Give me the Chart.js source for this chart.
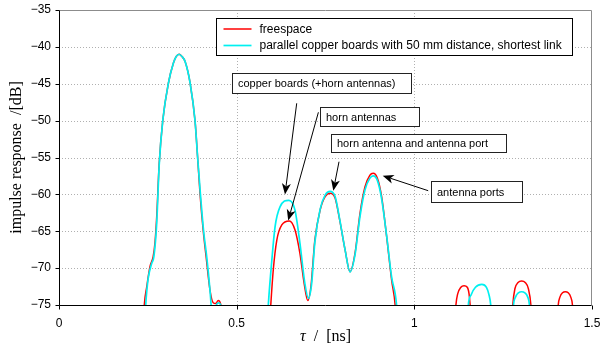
<!DOCTYPE html>
<html>
<head>
<meta charset="utf-8">
<script src="https://cdn.jsdelivr.net/npm/chart.js@4/dist/chart.umd.min.js"></script>
<style>
  html, body { margin: 0; padding: 0; background: #fff; }
</style>
</head>
<body>
<canvas id="chart" width="603" height="346"></canvas>
<script>
// values (tau in ns, response in dB); -80 means "below the axis"
const freespaceTau = [
  0.235, 0.240, 0.247, 0.256, 0.265, 0.270, 0.275, 0.282, 0.292, 0.308, 0.322, 0.330, 0.338, 0.346, 0.355,
  0.369, 0.383, 0.390, 0.397, 0.406, 0.414, 0.425, 0.434, 0.441, 0.448, 0.455, 0.460,
  0.590, 0.596, 0.603, 0.613, 0.627, 0.648, 0.664, 0.678, 0.690, 0.700, 0.709, 0.720, 0.735, 0.749, 0.763,
  0.777, 0.790, 0.805, 0.819, 0.833, 0.847, 0.861, 0.875, 0.884, 0.896, 0.908, 0.922, 0.936, 0.946, 0.952,
  1.111, 1.117, 1.122, 1.131, 1.140, 1.149, 1.154, 1.157, 1.163,
  1.271, 1.277, 1.283, 1.292, 1.302, 1.312, 1.321, 1.328, 1.334,
  1.399, 1.405, 1.410, 1.417, 1.425, 1.433, 1.440, 1.445, 1.451
];
const freespaceDb = [
  -80, -75, -72.5, -69.8, -68.45, -66.6, -63.0, -55.8, -50.0, -44.9, -42.2, -41.3, -41.0, -41.3, -42.0,
  -44.9, -50.1, -54.9, -60.0, -65.0, -68.45, -73.0, -74.7, -74.8, -74.4, -74.9, -80,
  -80, -75, -70.25, -66.2, -64.15, -63.6, -64.8, -68.0, -72.1, -74.4, -72.5, -66.2, -62.1, -60.3, -59.85,
  -60.5, -63.5, -67.5, -70.5, -68.0, -62.6, -59.0, -57.4, -57.15, -57.8, -60.3, -65.7, -71.6, -75, -80,
  -80, -75, -73.5, -72.6, -72.4, -72.6, -73.5, -75, -80,
  -80, -75, -72.8, -71.95, -71.75, -71.95, -72.8, -75, -80,
  -80, -75, -73.9, -73.35, -73.2, -73.35, -73.9, -75, -80
];
const copperTau = [
  0.239, 0.244, 0.251, 0.261, 0.267, 0.275, 0.282, 0.292, 0.308, 0.322, 0.330, 0.338, 0.346, 0.355,
  0.369, 0.383, 0.390, 0.398, 0.407, 0.416, 0.424, 0.428, 0.433,
  0.438, 0.443, 0.449, 0.455, 0.460,
  0.583, 0.589, 0.599, 0.608, 0.622, 0.647, 0.664, 0.678, 0.692, 0.702, 0.711, 0.720, 0.735, 0.749, 0.763,
  0.777, 0.790, 0.805, 0.819, 0.833, 0.847, 0.861, 0.875, 0.884, 0.896, 0.908, 0.922, 0.936, 0.950, 0.956,
  1.146, 1.152, 1.160, 1.172, 1.190, 1.203, 1.210, 1.215, 1.221,
  1.273, 1.279, 1.285, 1.293, 1.302, 1.311, 1.319, 1.324, 1.330
];
const copperDb = [
  -80, -75, -71.4, -69.35, -68.45, -63.9, -56.0, -50.0, -44.9, -42.2, -41.3, -41.0, -41.3, -42.0,
  -44.9, -50.1, -54.9, -60.0, -65.0, -68.6, -72.5, -75, -80,
  -80, -75, -74.7, -75, -80,
  -80, -75, -68.9, -64.4, -61.7, -60.8, -62.1, -66.6, -72.1, -74.1, -72.1, -66.5, -62.0, -60.1, -59.6,
  -60.3, -63.4, -67.5, -70.5, -68.2, -63.0, -59.4, -57.8, -57.5, -58.1, -60.6, -65.6, -71.2, -75, -80,
  -80, -75, -73.6, -72.6, -72.2, -72.6, -73.6, -75, -80,
  -80, -75, -73.9, -73.35, -73.2, -73.35, -73.9, -75, -80
];
const xTicks = [0, 0.5, 1, 1.5];
const yTicks = [-35, -40, -45, -50, -55, -60, -65, -70, -75];
const seriesLabels = ['freespace', 'parallel copper boards with 50 mm distance, shortest link'];

// text boxes with arrows, corners and arrow ends in axis units
const notes = [
  { text: 'copper boards (+horn antennas)', box: [0.486, -43.54, 0.991, -46.25], from: [0.669, -47.65], to: [0.636, -60.0] },
  { text: 'horn antennas', box: [0.735, -48.19, 1.014, -50.69], from: [0.730, -48.87], to: [0.645, -63.55] },
  { text: 'horn antenna and antenna port', box: [0.765, -51.81, 1.258, -54.29], from: [0.788, -55.57], to: [0.772, -59.5] },
  { text: 'antenna ports', box: [1.046, -58.15, 1.302, -61.0], from: [1.039, -59.5], to: [0.911, -57.47] }
];

const sans = 'Liberation Sans, Arial, sans-serif';
const serif = 'Liberation Serif, Times New Roman, serif';

function toPoints(xs, ys) {
  return xs.map((x, i) => ({ x: x, y: ys[i] }));
}

function arrow(ctx, x1, y1, x2, y2) {
  const a = Math.atan2(y2 - y1, x2 - x1);
  const len = 11, half = 4.5, back = 3;
  ctx.beginPath();
  ctx.moveTo(x1, y1);
  ctx.lineTo(x2 - Math.cos(a) * (len - back), y2 - Math.sin(a) * (len - back));
  ctx.stroke();
  ctx.save();
  ctx.translate(x2, y2);
  ctx.rotate(a);
  ctx.beginPath();
  ctx.moveTo(0, 0);
  ctx.lineTo(-len, -half);
  ctx.lineTo(-len + back, 0);
  ctx.lineTo(-len, half);
  ctx.closePath();
  ctx.fill();
  ctx.restore();
}

const framePlugin = {
  id: 'frame',
  beforeDatasetsDraw(chart) {
    const { ctx, chartArea: a, scales: { x, y } } = chart;
    ctx.save();
    ctx.strokeStyle = '#b0b0b0';
    ctx.lineWidth = 1;
    ctx.setLineDash([1, 2]);
    xTicks.slice(1, -1).forEach(v => {
      const px = Math.round(x.getPixelForValue(v)) + 0.5;
      ctx.beginPath(); ctx.moveTo(px, a.top); ctx.lineTo(px, a.bottom); ctx.stroke();
    });
    yTicks.slice(1, -1).forEach(v => {
      const py = Math.round(y.getPixelForValue(v)) + 0.5;
      ctx.beginPath(); ctx.moveTo(a.left, py); ctx.lineTo(a.right, py); ctx.stroke();
    });
    ctx.restore();
  },
  afterDatasetsDraw(chart) {
    const { ctx, chartArea: a, scales: { x, y } } = chart;
    const L = Math.round(a.left) + 0.5, R = Math.round(a.right) - 0.5;
    const T = Math.round(a.top) + 0.5, B = Math.round(a.bottom) + 0.5;
    ctx.save();
    ctx.lineWidth = 1;
    ctx.strokeStyle = '#8c8c8c';
    ctx.beginPath(); ctx.moveTo(L, T); ctx.lineTo(R, T); ctx.lineTo(R, B); ctx.stroke();
    ctx.strokeStyle = '#000';
    ctx.beginPath(); ctx.moveTo(L, T); ctx.lineTo(L, B); ctx.lineTo(R, B); ctx.stroke();
    ctx.beginPath();
    xTicks.forEach(v => {
      const px = Math.round(x.getPixelForValue(v)) + 0.5;
      ctx.moveTo(px, B); ctx.lineTo(px, B + 4);
    });
    yTicks.forEach(v => {
      const py = Math.round(y.getPixelForValue(v)) + 0.5;
      ctx.moveTo(L, py); ctx.lineTo(L - 4, py);
    });
    ctx.stroke();
    ctx.restore();
  },
  afterDraw(chart) {
    const { ctx, chartArea: a, scales: { x, y } } = chart;
    ctx.save();

    // axis titles
    ctx.fillStyle = '#000';
    ctx.font = '16px ' + serif;
    ctx.textAlign = 'center';
    ctx.textBaseline = 'middle';
    ctx.save();
    ctx.translate(17, (a.top + a.bottom) / 2);
    ctx.rotate(-Math.PI / 2);
    ctx.fillText('impulse response  /[dB]', 0, 0);
    ctx.restore();
    ctx.textBaseline = 'alphabetic';
    const cx = (a.left + a.right) / 2;
    ctx.font = 'italic 16px ' + serif;
    const tauW = ctx.measureText('τ').width;
    ctx.font = '16px ' + serif;
    const restW = ctx.measureText('  /  [ns]').width;
    const sx = cx - (tauW + restW) / 2;
    ctx.textAlign = 'left';
    ctx.font = 'italic 16px ' + serif;
    ctx.fillText('τ', sx, 341);
    ctx.font = '16px ' + serif;
    ctx.fillText('  /  [ns]', sx + tauW, 341);

    // annotations
    ctx.font = '11px ' + sans;
    ctx.textBaseline = 'middle';
    ctx.lineWidth = 1;
    notes.forEach(n => {
      const x1 = Math.round(x.getPixelForValue(n.box[0])) + 0.5;
      const y1 = Math.round(y.getPixelForValue(n.box[1])) + 0.5;
      const x2 = Math.round(x.getPixelForValue(n.box[2])) + 0.5;
      const y2 = Math.round(y.getPixelForValue(n.box[3])) + 0.5;
      ctx.fillStyle = '#fff';
      ctx.fillRect(x1, y1, x2 - x1, y2 - y1);
      ctx.strokeStyle = '#222';
      ctx.strokeRect(x1, y1, x2 - x1, y2 - y1);
      ctx.fillStyle = '#000';
      ctx.fillText(n.text, x1 + 5.5, (y1 + y2) / 2 + 0.5);
      ctx.strokeStyle = '#000';
      arrow(ctx, x.getPixelForValue(n.from[0]), y.getPixelForValue(n.from[1]),
        x.getPixelForValue(n.to[0]), y.getPixelForValue(n.to[1]));
    });

    // legend
    const lx = Math.round(a.left + 157) + 0.5, ly = Math.round(a.top + 8) + 0.5;
    const lw = 356, lh = 37;
    ctx.fillStyle = '#fff';
    ctx.fillRect(lx, ly, lw, lh);
    ctx.strokeStyle = '#000';
    ctx.strokeRect(lx, ly, lw, lh);
    ctx.font = '12px ' + sans;
    chart.data.datasets.forEach((ds, i) => {
      const yy = ly + 10.5 + i * 16.5;
      ctx.strokeStyle = ds.borderColor;
      ctx.lineWidth = ds.borderWidth;
      ctx.beginPath(); ctx.moveTo(lx + 7, yy); ctx.lineTo(lx + 35, yy); ctx.stroke();
      ctx.fillStyle = '#000';
      ctx.fillText(ds.label, lx + 43, yy + 0.5);
    });
    ctx.restore();
  }
};

new Chart(document.getElementById('chart'), {
  type: 'line',
  data: {
    datasets: [
      {
        label: seriesLabels[0],
        data: toPoints(freespaceTau, freespaceDb),
        borderColor: '#ff0000',
        borderWidth: 1.5,
        order: 1
      },
      {
        label: seriesLabels[1],
        data: toPoints(copperTau, copperDb),
        borderColor: '#00f0f0',
        borderWidth: 1.7,
        order: 0
      }
    ]
  },
  options: {
    responsive: false,
    animation: false,
    devicePixelRatio: 1,
    layout: { padding: { top: 10, right: 11, left: 0, bottom: 0 } },
    elements: {
      point: { radius: 0 },
      line: { cubicInterpolationMode: 'monotone', fill: false }
    },
    datasets: { line: { clip: 0 } },
    plugins: { legend: { display: false }, tooltip: { enabled: false } },
    scales: {
      x: {
        type: 'linear',
        min: 0,
        max: 1.5,
        afterBuildTicks: s => { s.ticks = xTicks.map(v => ({ value: v })); },
        afterFit: s => { s.height = 41; s.paddingLeft = 0; s.paddingRight = 0; },
        grid: { display: false, drawTicks: false },
        border: { display: false },
        ticks: { color: '#000', font: { family: sans, size: 12 }, padding: 11, maxRotation: 0, callback: v => String(v) }
      },
      y: {
        min: -75,
        max: -35,
        afterBuildTicks: s => { s.ticks = yTicks.map(v => ({ value: v })); },
        afterFit: s => { s.width = 59; s.paddingTop = 0; s.paddingBottom = 0; },
        grid: { display: false, drawTicks: false },
        border: { display: false },
        ticks: { color: '#000', font: { family: sans, size: 12 }, padding: 8, callback: v => String(v).replace('-', '\u2212') }
      }
    }
  },
  plugins: [framePlugin]
});
</script>
</body>
</html>
